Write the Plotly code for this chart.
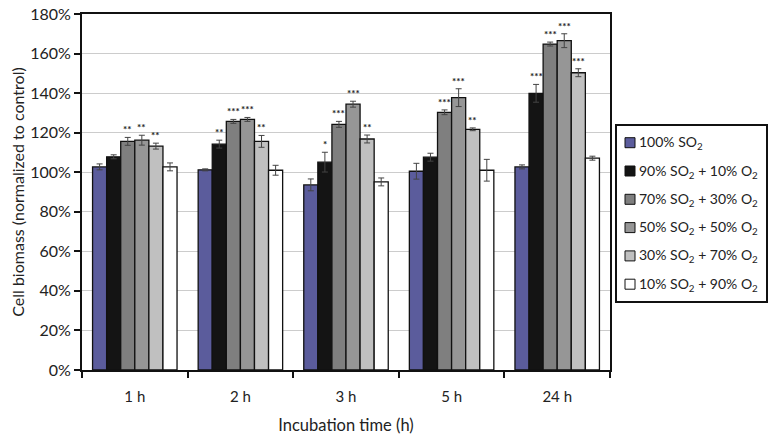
import plotly.graph_objects as go

categories = ["1 h", "2 h", "3 h", "5 h", "24 h"]
series_names = [
    "100% SO<sub>2</sub>",
    "90% SO<sub>2</sub> + 10% O<sub>2</sub>",
    "70% SO<sub>2</sub> + 30% O<sub>2</sub>",
    "50% SO<sub>2</sub> + 50% O<sub>2</sub>",
    "30% SO<sub>2</sub> + 70% O<sub>2</sub>",
    "10% SO<sub>2</sub> + 90% O<sub>2</sub>",
]
colors = ["#5b5c9c", "#141414", "#7f7f7f", "#969696", "#c0c0c0", "#ffffff"]

s100 = [1.027, 1.012, 0.936, 1.005, 1.027]
s90 = [1.078, 1.142, 1.051, 1.076, 1.399]
s70 = [1.156, 1.257, 1.242, 1.303, 1.648]
s50 = [1.162, 1.267, 1.344, 1.377, 1.665]
s30 = [1.132, 1.156, 1.168, 1.217, 1.503]
s10 = [1.027, 1.010, 0.951, 1.010, 1.071]
values = [s100, s90, s70, s50, s30, s10]

e100 = [0.015, 0.005, 0.030, 0.040, 0.010]
e90 = [0.010, 0.020, 0.050, 0.020, 0.045]
e70 = [0.020, 0.010, 0.015, 0.012, 0.010]
e50 = [0.025, 0.010, 0.015, 0.045, 0.035]
e30 = [0.015, 0.030, 0.020, 0.007, 0.020]
e10 = [0.020, 0.025, 0.020, 0.055, 0.010]
errors = [e100, e90, e70, e50, e30, e10]

st100 = ["", "", "", "", ""]
st90 = ["", "**", "*", "", "***"]
st70 = ["**", "***", "***", "***", "***"]
st50 = ["**", "***", "***", "***", "***"]
st30 = ["**", "**", "**", "**", "***"]
st10 = ["", "", "", "", ""]
stars = [st100, st90, st70, st50, st30, st10]

FONT = "Lato, Open Sans, sans-serif"
W, H = 775, 440
ML, MR, MT, MB = 82, 165, 14, 70
PW, PH = W - ML - MR, H - MT - MB


def px_x(px):
    return (px - ML) / PW


def px_y(py):
    return (H - MB - py) / PH


fig = go.Figure()
for i, name in enumerate(series_names):
    fig.add_trace(go.Bar(
        x=categories, y=values[i], name=name, showlegend=False,
        marker=dict(color=colors[i], line=dict(color="#111111", width=1.3)),
        error_y=dict(type="data", array=errors[i], color="#444444", thickness=1, width=3),
    ))

bargap = 0.2
nser = len(series_names)
bw = (1 - bargap) / nser
annotations = []
shapes = []
for i in range(nser):
    for j, c in enumerate(categories):
        if stars[i][j]:
            annotations.append(dict(
                x=j - (1 - bargap) / 2 + bw * (i + 0.5), y=values[i][j] + errors[i][j],
                xref="x", yref="y", text="<b>" + stars[i][j] + "</b>", showarrow=False,
                yanchor="bottom", yshift=0, font=dict(size=10, color="#222222", family=FONT),
            ))

# legend box (drawn as layout shapes + text)
leg_left, leg_right, leg_top, leg_bottom = 616, 767, 125, 302
shapes.append(dict(type="rect", xref="paper", yref="paper",
                   x0=px_x(leg_left), x1=px_x(leg_right), y0=px_y(leg_bottom), y1=px_y(leg_top),
                   line=dict(color="#111111", width=2), fillcolor="white"))
row0, row_step = 142.7, 28.3
for i, name in enumerate(series_names):
    cy = row0 + i * row_step
    shapes.append(dict(type="rect", xref="paper", yref="paper",
                       x0=px_x(625), x1=px_x(635), y0=px_y(cy + 5), y1=px_y(cy - 5),
                       line=dict(color="#111111", width=1), fillcolor=colors[i]))
    annotations.append(dict(x=px_x(637), y=px_y(cy), xref="paper", yref="paper",
                            text=name, showarrow=False, xanchor="left", yanchor="middle",
                            font=dict(size=14, family=FONT, color="#222222")))

fig.update_layout(
    width=W, height=H,
    margin=dict(l=ML, r=MR, t=MT, b=MB, autoexpand=False),
    paper_bgcolor="white", plot_bgcolor="white",
    barmode="group", bargap=bargap, bargroupgap=0,
    font=dict(family=FONT, size=15, color="#222222"),
    showlegend=False,
    annotations=annotations,
    shapes=shapes,
)
fig.update_xaxes(
    type="category", showline=True, linecolor="#111111", linewidth=2, mirror=True,
    ticks="outside", tickson="boundaries", ticklen=6, tickcolor="#111111", tickwidth=2,
    ticklabelstandoff=12, automargin=False, tickfont=dict(size=15),
    title=dict(text="Incubation time (h)", font=dict(size=16.5), standoff=15),
    showgrid=False,
)
fig.update_yaxes(
    range=[0, 1.8], dtick=0.2, tickformat=".0%",
    showline=True, linecolor="#111111", linewidth=2, mirror=True,
    ticks="outside", ticklen=6, tickcolor="#111111", tickwidth=2, tickfont=dict(size=16),
    showgrid=True, gridcolor="#cccccc", gridwidth=1, automargin=False,
    title=dict(text="Cell biomass (normalized to control)", font=dict(size=16), standoff=2),
    zeroline=False,
)
fig.write_html("out.html", config={"displayModeBar": False},
               post_script="document.body.style.margin='0';document.body.style.overflow='hidden';")
